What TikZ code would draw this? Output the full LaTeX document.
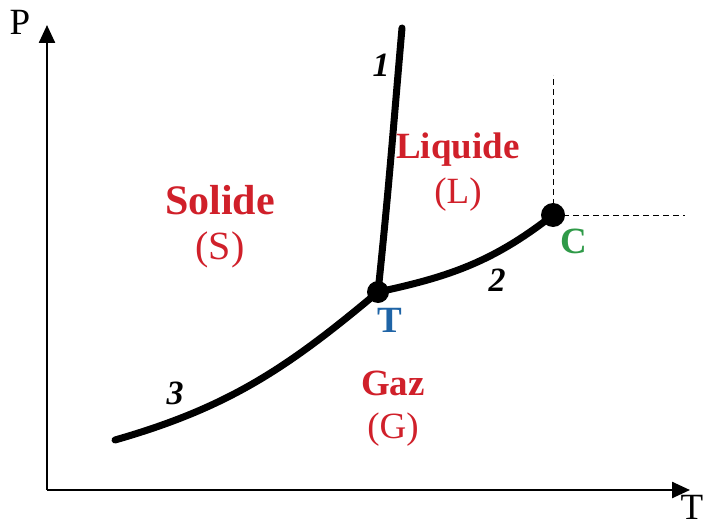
\documentclass[tikz,border=0pt]{standalone}
\usepackage{fontspec}
\setmainfont{Liberation Serif}
\usetikzlibrary{arrows.meta,positioning}
\definecolor{PhaseRed}{HTML}{D0202A}
\definecolor{PointBlue}{HTML}{1F64A6}
\definecolor{PointGreen}{HTML}{2F9A48}

\begin{document}
\begin{tikzpicture}[x=0.5pt, y=0.5pt,
  axis/.style={line width=1.2pt, -{Triangle[length=9pt,width=8pt]}},
  border/.style={line width=3.5pt, line cap=round},
  guide/.style={line width=0.5pt, dash pattern=on 3pt off 2pt},
  dot/.style={circle, fill=black, inner sep=0pt, minimum size=#1},
  phase/.style={font=\fontsize{18.5}{22}\selectfont\bfseries, text=PhaseRed},
  sym/.style={font=\fontsize{18.5}{22}\selectfont, text=PhaseRed},
  num/.style={font=\fontsize{17}{20}\selectfont\bfseries\itshape},
  pt/.style={font=\fontsize{18.5}{22}\selectfont\bfseries}]
  \useasboundingbox (0,0) rectangle (704,525);
  % axes
  \coordinate (O) at (47,35);
  \coordinate (ptop) at (47,500);
  \coordinate (tend) at (690,35);
  \draw[axis] (O) -- (ptop);
  \draw[axis] (O) -- (tend);
  \node[font=\fontsize{18.5}{22}\selectfont] (plab) at (20,503) {P};
  \node[font=\fontsize{18.5}{22}\selectfont, inner sep=0pt] (tlab) at (692,18) {T};
  % points
  \coordinate (tp) at (378,233);
  \coordinate (cp) at (553,310);
  \coordinate (top1) at (402,497);
  \coordinate (start3) at (115,85);
  \coordinate (cpup) at (553,450);
  \coordinate (cpright) at (685,310);
  \draw[guide] (cp) -- (cpup);
  \draw[guide] (cp) -- (cpright);
  % equilibrium curves
  \draw[border] (tp) to[out=84,in=265] (top1);
  \draw[border] (tp) to[out=12,in=218] (cp);
  \draw[border] (start3) to[out=16,in=220] (tp);
  \node[dot=11pt] (tpdot) at (tp) {};
  \node[dot=12pt] (cpdot) at (cp) {};
  % labels
  \node[num] (n1) at (381,460) {1};
  \node[num] (n2) at (497,245) {2};
  \node[num] (n3) at (175,132) {3};
  \node[pt, text=PointBlue] (tname) at (390,205) {T};
  \node[pt, text=PointGreen] (cname) at (574,284) {C};
  \node[phase] (liq) at (458,375) {Liquide};
  \node[sym] (liqs) at (458,330) {(L)};
  \node[phase, font=\fontsize{21}{24}\selectfont\bfseries] (sol) at (220,325) {Solide};
  \node[sym, font=\fontsize{20}{24}\selectfont] (sols) at (220,275) {(S)};
  \node[phase] (gaz) at (393,142) {Gaz};
  \node[sym] (gazs) at (393,95) {(G)};
\end{tikzpicture}
\end{document}
